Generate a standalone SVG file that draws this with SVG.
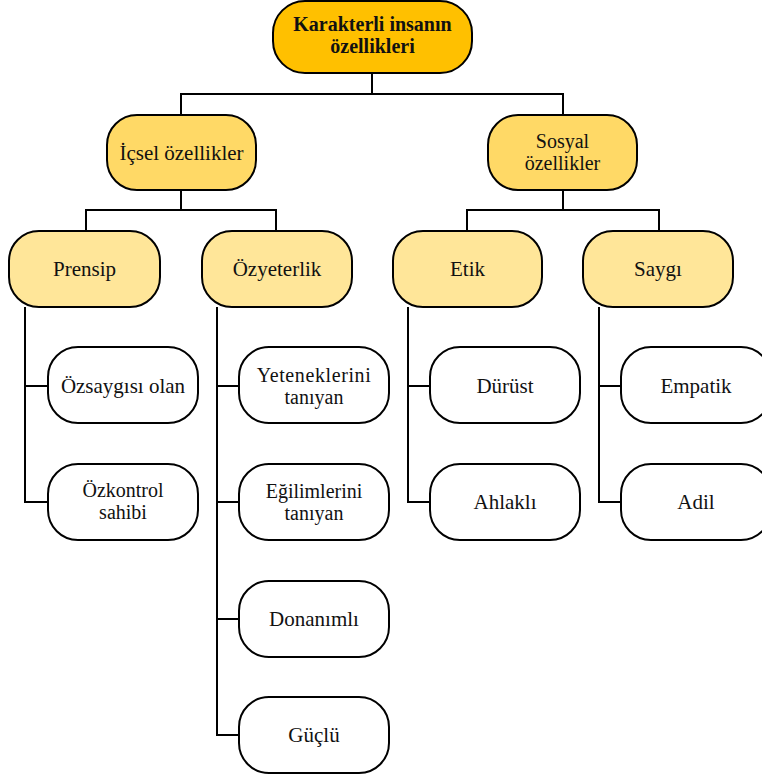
<svg xmlns="http://www.w3.org/2000/svg" width="762" height="776" viewBox="0 0 762 776">
<style>
.n{stroke:#000;stroke-width:2}
.r{fill:#FFC000}
.l2{fill:#FFD966}
.l3{fill:#FFE699}
.lf{fill:#FFFFFF}
text{font-family:'Liberation Serif','Times New Roman','DejaVu Serif',serif;font-size:21px;fill:#111;text-anchor:middle}
.t{font-size:20px}
.b{font-weight:bold}
.c{fill:none;stroke:#000;stroke-width:2}
</style>
<rect width="762" height="776" fill="#fff"/>
<g id="connectors" class="c">
<path d="M372,73V94M181,94H563M181,93V115M563,93V115"/>
<path d="M181,190V210M86,210H276M86,209V231M276,209V231"/>
<path d="M563,190V210M467,210H659M467,209V231M659,209V231"/>
<path d="M25,307V503M24,386H48M24,502H48"/>
<path d="M217,307V736M216,386H239M216,502H239M216,619H239M216,735H239"/>
<path d="M408,307V503M407,386H430M407,502H430"/>
<path d="M599,307V503M598,386H621M598,502H621"/>
</g>
<g id="root"><rect class="n r" x="273" y="1" width="199" height="72" rx="32"/><text class="b t" x="372.5" y="31">Karakterli insanın</text><text class="b t" x="372.5" y="53">özellikleri</text></g>
<g id="icsel"><rect class="n l2" x="107" y="115" width="149" height="75" rx="30"/><text x="181.5" y="160">İçsel özellikler</text></g>
<g id="sosyal"><rect class="n l2" x="488" y="115" width="149" height="75" rx="30"/><text class="t" x="562.5" y="148">Sosyal</text><text class="t" x="562.5" y="170">özellikler</text></g>
<g id="prensip"><rect class="n l3" x="9" y="231" width="151" height="76" rx="30"/><text x="84.5" y="276">Prensip</text></g>
<g id="ozyeterlik"><rect class="n l3" x="202" y="231" width="150" height="76" rx="30"/><text x="277" y="276">Özyeterlik</text></g>
<g id="etik"><rect class="n l3" x="393" y="231" width="149" height="76" rx="30"/><text x="467.5" y="276">Etik</text></g>
<g id="saygi"><rect class="n l3" x="583" y="231" width="150" height="76" rx="30"/><text x="658" y="276">Saygı</text></g>
<g id="ozsaygisi"><rect class="n lf" x="48" y="347" width="150" height="76" rx="30"/><text x="123" y="393">Özsaygısı olan</text></g>
<g id="ozkontrol"><rect class="n lf" x="48" y="464" width="150" height="76" rx="30"/><text class="t" x="123" y="497">Özkontrol</text><text class="t" x="123" y="519">sahibi</text></g>
<g id="yetenek"><rect class="n lf" x="239" y="347" width="150" height="76" rx="30"/><text class="t" x="314" y="382" letter-spacing="0.6">Yeteneklerini</text><text class="t" x="314" y="404">tanıyan</text></g>
<g id="egilim"><rect class="n lf" x="239" y="464" width="150" height="76" rx="30"/><text class="t" x="314" y="498">Eğilimlerini</text><text class="t" x="314" y="520">tanıyan</text></g>
<g id="donanimli"><rect class="n lf" x="239" y="581" width="150" height="76" rx="30"/><text x="314" y="626">Donanımlı</text></g>
<g id="guclu"><rect class="n lf" x="239" y="697" width="150" height="76" rx="30"/><text x="314" y="742">Güçlü</text></g>
<g id="durust"><rect class="n lf" x="430" y="347" width="150" height="76" rx="30"/><text x="505" y="393">Dürüst</text></g>
<g id="ahlakli"><rect class="n lf" x="430" y="464" width="150" height="76" rx="30"/><text x="505" y="509">Ahlaklı</text></g>
<g id="empatik"><rect class="n lf" x="621" y="347" width="150" height="76" rx="30"/><text x="696" y="393">Empatik</text></g>
<g id="adil"><rect class="n lf" x="621" y="464" width="150" height="76" rx="30"/><text x="696" y="509">Adil</text></g>
</svg>
